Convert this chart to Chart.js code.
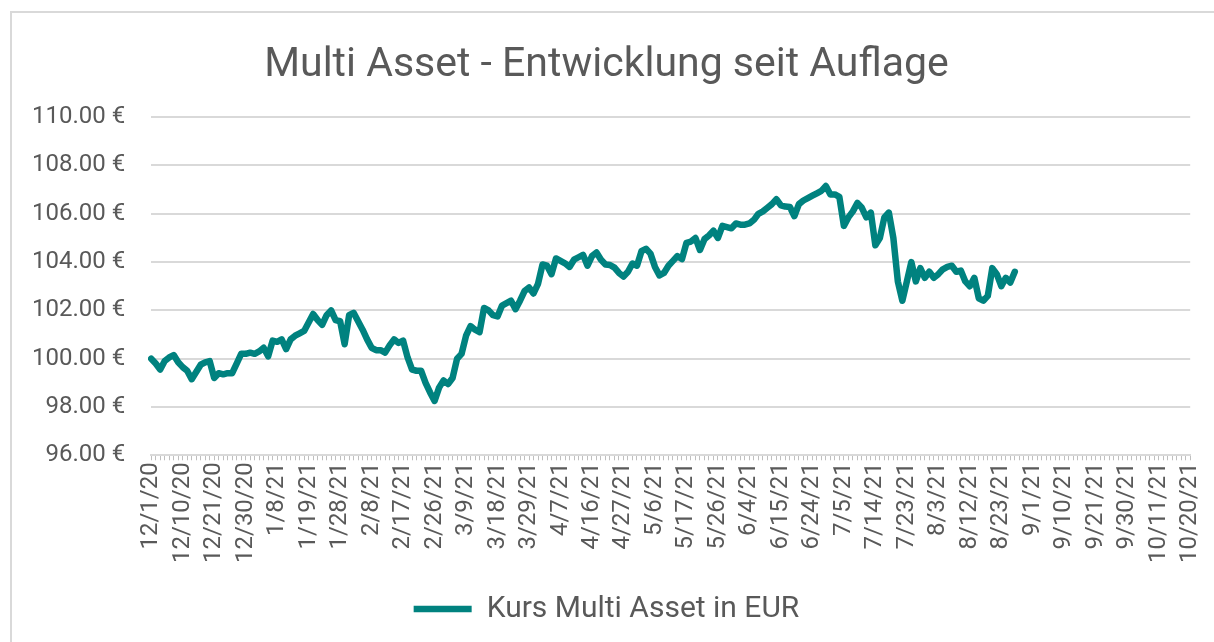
<!DOCTYPE html>
<html>
<head>
<meta charset="utf-8">
<script src="https://cdn.jsdelivr.net/npm/chart.js@4"></script>
<style>
  body { margin: 0; background: #fff; overflow: hidden; }
  #frame { position: absolute; left: 10px; top: 11px; width: 1220px; height: 660px; border: 2px solid #d9d9d9; box-sizing: border-box; }
  #wrap { position: absolute; left: 0; top: 0; width: 1221px; height: 642px; }
</style>
</head>
<body>
<div id="frame"></div>
<div id="wrap"><canvas id="myChart"></canvas></div>
<script>
// tick labels shown every 7th business day
const tickLabels = ['12/1/20','12/10/20','12/21/20','12/30/20','1/8/21','1/19/21','1/28/21','2/8/21','2/17/21','2/26/21',
  '3/9/21','3/18/21','3/29/21','4/7/21','4/16/21','4/27/21','5/6/21','5/17/21','5/26/21','6/4/21','6/15/21','6/24/21',
  '7/5/21','7/14/21','7/23/21','8/3/21','8/12/21','8/23/21','9/1/21','9/10/21','9/21/21','9/30/21','10/11/21','10/20/21'];

// Kurs in EUR, one value per business day from 12/1/20
const kurs = [
  100.0, 99.8, 99.55, 99.9, 100.05, 100.15, 99.85, 99.65, 99.5, 99.15,
  99.45, 99.75, 99.85, 99.9, 99.2, 99.4, 99.35, 99.4, 99.4, 99.8,
  100.2, 100.2, 100.25, 100.2, 100.3, 100.45, 100.1, 100.75, 100.7, 100.8,
  100.4, 100.8, 100.95, 101.05, 101.15, 101.5, 101.85, 101.6, 101.4, 101.8,
  102.0, 101.6, 101.55, 100.6, 101.8, 101.9, 101.55, 101.2, 100.8, 100.45,
  100.35, 100.35, 100.25, 100.55, 100.8, 100.65, 100.75, 100.05, 99.55, 99.5,
  99.5, 99.0, 98.6, 98.25, 98.8, 99.1, 98.95, 99.2, 100.0, 100.2,
  100.95, 101.35, 101.2, 101.1, 102.1, 102.0, 101.8, 101.75, 102.2, 102.3,
  102.4, 102.05, 102.4, 102.8, 102.95, 102.7, 103.1, 103.9, 103.85, 103.5,
  104.15, 104.05, 103.95, 103.8, 104.1, 104.2, 104.3, 103.85, 104.25, 104.4,
  104.1, 103.9, 103.88, 103.77, 103.55, 103.4, 103.6, 103.94, 103.85, 104.45,
  104.55, 104.35, 103.8, 103.45, 103.55, 103.85, 104.05, 104.25, 104.12, 104.8,
  104.85, 105.0, 104.5, 104.95, 105.1, 105.3, 105.0, 105.5, 105.45, 105.4,
  105.6, 105.55, 105.55, 105.6, 105.75, 106.0, 106.1, 106.25, 106.4, 106.6,
  106.35, 106.3, 106.28, 105.9, 106.4, 106.55, 106.65, 106.75, 106.85, 106.95,
  107.15, 106.8, 106.8, 106.7, 105.5, 105.85, 106.1, 106.45, 106.25, 105.85,
  106.05, 104.7, 105.0, 105.85, 106.05, 105.0, 103.2, 102.4, 103.2, 104.0,
  103.2, 103.75, 103.35, 103.6, 103.35, 103.5, 103.7, 103.8, 103.85, 103.6,
  103.65, 103.2, 103.0, 103.35, 102.5, 102.4, 102.6, 103.75, 103.5, 103.0,
  103.35, 103.15, 103.6
];

// business-day categories 12/1/20 .. 10/20/21
const categories = [];
let d = new Date(2020, 11, 1);
const end = new Date(2021, 9, 20);
while (d <= end) {
  const wd = d.getDay();
  if (wd !== 0 && wd !== 6) {
    categories.push((d.getMonth() + 1) + '/' + d.getDate() + '/' + String(d.getFullYear()).slice(2));
  }
  d.setDate(d.getDate() + 1);
}

const teal = '#00827f';
const grey = '#595959';
Chart.defaults.font.family = 'Roboto, "Open Sans", sans-serif';
Chart.defaults.color = grey;

const ctx = document.getElementById('myChart');
new Chart(ctx, {
  type: 'line',
  data: {
    labels: categories,
    datasets: [{
      label: 'Kurs Multi Asset in EUR',
      data: kurs,
      borderColor: teal,
      backgroundColor: teal,
      borderWidth: 6.5,
      pointRadius: 0,
      pointStyle: 'line',
      tension: 0,
      borderJoinStyle: 'round',
      borderCapStyle: 'round'
    }]
  },
  options: {
    responsive: true,
    maintainAspectRatio: false,
    animation: false,
    layout: { padding: { left: 6, right: 14, top: 41, bottom: 8 } },
    plugins: {
      title: {
        display: true,
        text: 'Multi Asset - Entwicklung seit Auflage',
        color: grey,
        font: { size: 41, weight: 'normal' },
        padding: { top: 0, bottom: 27 }
      },
      legend: {
        position: 'bottom',
        labels: {
          usePointStyle: true,
          pointStyleWidth: 58,
          color: grey,
          font: { size: 30 },
          padding: 14
        }
      },
      tooltip: { enabled: false }
    },
    scales: {
      x: {
        offset: false,
        grid: { drawOnChartArea: false, drawTicks: true, tickLength: 5, color: '#bfbfbf' },
        border: { color: '#d9d9d9', width: 2 },
        afterFit: function (scale) { scale.height += 15; },
        ticks: {
          autoSkip: false,
          minRotation: 90,
          maxRotation: 90,
          padding: 2,
          color: grey,
          font: { size: 24 },
          callback: function (val, idx) { return idx % 7 === 0 ? tickLabels[idx / 7] : ''; }
        }
      },
      y: {
        min: 96,
        max: 110,
        grid: { color: '#d9d9d9', lineWidth: 2, drawTicks: false },
        border: { display: false },
        ticks: {
          stepSize: 2,
          padding: 26,
          color: grey,
          font: { size: 24 },
          callback: function (v) { return v.toFixed(2) + ' €'; }
        }
      }
    }
  }
});
</script>
</body>
</html>
